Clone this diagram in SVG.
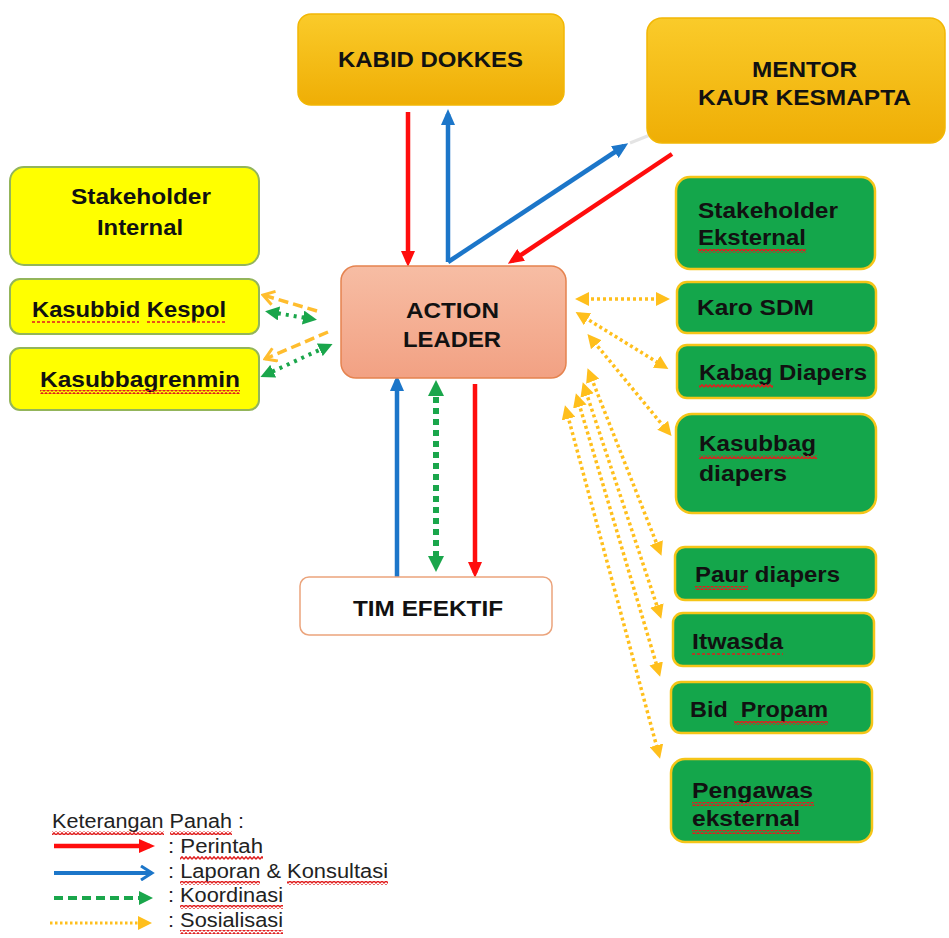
<svg xmlns="http://www.w3.org/2000/svg" width="949" height="938" viewBox="0 0 949 938">
<defs>
<style>
.t{font-family:"Liberation Sans",Arial,sans-serif;font-weight:bold;fill:#111;font-size:22px}
.lg{font-family:"Liberation Sans",Arial,sans-serif;fill:#222;font-size:19.5px}
.gold{fill:url(#gGold);stroke:#F2B705;stroke-width:1.5}
.yel{fill:#FFFF00;stroke:#93B55A;stroke-width:2}
.grn{fill:#14A64B;stroke:#F5C518;stroke-width:2.5}
.red{stroke:#FF0D0D;stroke-width:4.5;fill:none}
.blue{stroke:#1C76C9;stroke-width:4.5;fill:none}
.gdash{stroke:#1AA64B;stroke-width:6;fill:none;stroke-dasharray:6 5}
.gdot{stroke:#1AA64B;stroke-width:4;fill:none;stroke-dasharray:3 5}
.odash{stroke:#FFBD2E;stroke-width:3.5;fill:none;stroke-dasharray:10 5}
.odot{stroke:#FFBF1C;stroke-width:3.5;fill:none;stroke-dasharray:3 3}
.wv{fill:url(#wave)}
.dsh{stroke:#E01E1E;stroke-width:1.5;stroke-dasharray:3 2}
</style>
<linearGradient id="gGold" x1="0" y1="0" x2="0" y2="1">
<stop offset="0" stop-color="#FACB2A"/><stop offset="1" stop-color="#EFAE05"/>
</linearGradient>
<linearGradient id="gSal" x1="0" y1="0" x2="0" y2="1">
<stop offset="0" stop-color="#F7BDA4"/><stop offset="1" stop-color="#F2A183"/>
</linearGradient>
<pattern id="wave" width="4" height="4" patternUnits="userSpaceOnUse">
<path d="M0 3.2 L2 0.8 L4 3.2" fill="none" stroke="#E01E1E" stroke-width="1.4"/>
</pattern>
<marker id="mRed" viewBox="0 0 16 14" refX="11" refY="7" markerWidth="16" markerHeight="14" markerUnits="userSpaceOnUse" orient="auto">
<path d="M0 0 L16 7 L0 14 z" fill="#FF0D0D"/></marker>
<marker id="mBlue" viewBox="0 0 16 14" refX="11" refY="7" markerWidth="16" markerHeight="14" markerUnits="userSpaceOnUse" orient="auto">
<path d="M0 0 L16 7 L0 14 z" fill="#1C76C9"/></marker>
<marker id="mBlueOpen" viewBox="0 0 16 16" refX="13" refY="8" markerWidth="16" markerHeight="16" markerUnits="userSpaceOnUse" orient="auto">
<path d="M2 1 L13 8 L2 15" fill="none" stroke="#1C76C9" stroke-width="3"/></marker>
<marker id="mGreen" viewBox="0 0 16 16" refX="10" refY="8" markerWidth="16" markerHeight="16" markerUnits="userSpaceOnUse" orient="auto-start-reverse">
<path d="M0 0 L16 8 L0 16 z" fill="#1AA64B"/></marker>
<marker id="mGreenS" viewBox="0 0 14 14" refX="9" refY="7" markerWidth="14" markerHeight="14" markerUnits="userSpaceOnUse" orient="auto-start-reverse">
<path d="M0 0 L14 7 L0 14 z" fill="#1AA64B"/></marker>
<marker id="mOr" viewBox="0 0 14 14" refX="10" refY="7" markerWidth="14" markerHeight="14" markerUnits="userSpaceOnUse" orient="auto-start-reverse">
<path d="M0 0 L14 7 L0 14 z" fill="#FFBF1C"/></marker>
<marker id="mOrOpen" viewBox="0 0 14 16" refX="12" refY="8" markerWidth="14" markerHeight="16" markerUnits="userSpaceOnUse" orient="auto">
<path d="M1 1 L12 8 L1 15" fill="none" stroke="#FFBD2E" stroke-width="3"/></marker>
</defs>

<rect width="949" height="938" fill="#fff"/>

<g id="connectors">
<line class="red" x1="408" y1="112" x2="408" y2="262" marker-end="url(#mRed)"/>
<line class="blue" x1="448" y1="262" x2="448" y2="114" marker-end="url(#mBlue)"/>
<line class="blue" x1="448" y1="262" x2="624" y2="146" marker-end="url(#mBlue)"/>
<line class="red" x1="672" y1="154" x2="512" y2="261" marker-end="url(#mRed)"/>
<line x1="630" y1="143" x2="650" y2="135" stroke="#E4E4E4" stroke-width="3"/>
<line class="blue" x1="397" y1="577" x2="397" y2="380" marker-end="url(#mBlue)"/>
<line class="gdash" x1="436" y1="386" x2="436" y2="566" marker-start="url(#mGreen)" marker-end="url(#mGreen)"/>
<line class="red" x1="475" y1="384" x2="475" y2="573" marker-end="url(#mRed)"/>
<line class="odash" x1="317" y1="311" x2="263" y2="295" marker-end="url(#mOrOpen)"/>
<line class="gdot" x1="270" y1="312" x2="312" y2="319" marker-start="url(#mGreenS)" marker-end="url(#mGreenS)"/>
<line class="odash" x1="328" y1="332" x2="265" y2="359" marker-end="url(#mOrOpen)"/>
<line class="gdot" x1="265" y1="375" x2="328" y2="346" marker-start="url(#mGreenS)" marker-end="url(#mGreenS)"/>
<line class="odot" x1="579" y1="299" x2="666" y2="299" marker-start="url(#mOr)" marker-end="url(#mOr)"/>
<line class="odot" x1="579" y1="314" x2="665" y2="367" marker-start="url(#mOr)" marker-end="url(#mOr)"/>
<line class="odot" x1="590" y1="337" x2="669" y2="433" marker-start="url(#mOr)" marker-end="url(#mOr)"/>
<line class="odot" x1="589" y1="372" x2="660" y2="552" marker-start="url(#mOr)" marker-end="url(#mOr)"/>
<line class="odot" x1="584" y1="386" x2="660" y2="615" marker-start="url(#mOr)" marker-end="url(#mOr)"/>
<line class="odot" x1="577" y1="397" x2="659" y2="673" marker-start="url(#mOr)" marker-end="url(#mOr)"/>
<line class="odot" x1="566" y1="409" x2="659" y2="755" marker-start="url(#mOr)" marker-end="url(#mOr)"/>
</g>

<g id="kabid">
<rect class="gold" x="298" y="14" width="266" height="91" rx="13"/>
<text class="t" x="338" y="67" textLength="185" lengthAdjust="spacingAndGlyphs">KABID DOKKES</text>
</g>
<g id="mentor">
<rect class="gold" x="647" y="18" width="298" height="125" rx="15"/>
<text class="t" x="752" y="77" textLength="105" lengthAdjust="spacingAndGlyphs">MENTOR</text>
<text class="t" x="698" y="105" textLength="213" lengthAdjust="spacingAndGlyphs">KAUR KESMAPTA</text>
</g>
<g id="stakeholder-internal">
<rect class="yel" x="10" y="167" width="249" height="98" rx="14"/>
<text class="t" x="71" y="204" textLength="140" lengthAdjust="spacingAndGlyphs">Stakeholder</text>
<text class="t" x="97" y="235" textLength="86" lengthAdjust="spacingAndGlyphs">Internal</text>
</g>
<g id="kasubbid-kespol">
<rect class="yel" x="10" y="279" width="249" height="55" rx="10"/>
<text class="t" x="32" y="317" textLength="194" lengthAdjust="spacingAndGlyphs">Kasubbid Kespol</text>
<line class="dsh" x1="32" y1="322" x2="139" y2="322"/>
<line class="dsh" x1="147" y1="322" x2="226" y2="322"/>
</g>
<g id="kasubbagrenmin">
<rect class="yel" x="10" y="348" width="249" height="62" rx="10"/>
<text class="t" x="40" y="387" textLength="200" lengthAdjust="spacingAndGlyphs">Kasubbagrenmin</text>
<rect class="wv" x="40" y="390" width="200" height="4"/>
</g>
<g id="action-leader">
<rect x="341" y="266" width="225" height="112" rx="15" fill="url(#gSal)" stroke="#E5834F" stroke-width="1.5"/>
<text class="t" x="406" y="318" textLength="93" lengthAdjust="spacingAndGlyphs">ACTION</text>
<text class="t" x="403" y="347" textLength="98" lengthAdjust="spacingAndGlyphs">LEADER</text>
</g>
<g id="tim-efektif">
<rect x="300" y="577" width="252" height="58" rx="9" fill="#fff" stroke="#EBA47C" stroke-width="1.5"/>
<text class="t" x="353" y="616" textLength="150" lengthAdjust="spacingAndGlyphs">TIM EFEKTIF</text>
</g>
<g id="stakeholder-eksternal">
<rect class="grn" x="676" y="177" width="199" height="92" rx="14"/>
<text class="t" x="698" y="218" textLength="140" lengthAdjust="spacingAndGlyphs">Stakeholder</text>
<text class="t" x="698" y="245" textLength="108" lengthAdjust="spacingAndGlyphs">Eksternal</text>
<rect class="wv" x="698" y="249" width="108" height="4"/>
</g>
<g id="karo-sdm">
<rect class="grn" x="677" y="282" width="199" height="51" rx="10"/>
<text class="t" x="697" y="315" textLength="117" lengthAdjust="spacingAndGlyphs">Karo SDM</text>
</g>
<g id="kabag-diapers">
<rect class="grn" x="677" y="345" width="199" height="53" rx="10"/>
<text class="t" x="699" y="380" textLength="168" lengthAdjust="spacingAndGlyphs">Kabag Diapers</text>
<rect class="wv" x="699" y="384" width="74" height="4"/>
</g>
<g id="kasubbag-diapers">
<rect class="grn" x="676" y="414" width="200" height="99" rx="16"/>
<text class="t" x="699" y="451" textLength="117" lengthAdjust="spacingAndGlyphs">Kasubbag</text>
<rect class="wv" x="699" y="455" width="118" height="4"/>
<text class="t" x="699" y="481" textLength="88" lengthAdjust="spacingAndGlyphs">diapers</text>
</g>
<g id="paur-diapers">
<rect class="grn" x="675" y="547" width="201" height="53" rx="10"/>
<text class="t" x="695" y="582" textLength="145" lengthAdjust="spacingAndGlyphs">Paur diapers</text>
<rect class="wv" x="695" y="586" width="53" height="4"/>
</g>
<g id="itwasda">
<rect class="grn" x="673" y="613" width="201" height="53" rx="10"/>
<text class="t" x="692" y="649" textLength="91" lengthAdjust="spacingAndGlyphs">Itwasda</text>
<line class="dsh" x1="692" y1="654" x2="783" y2="654"/>
</g>
<g id="bid-propam">
<rect class="grn" x="671" y="682" width="201" height="51" rx="10"/>
<text class="t" x="690" y="717" textLength="138" lengthAdjust="spacingAndGlyphs" xml:space="preserve">Bid  Propam</text>
<rect class="wv" x="734" y="721" width="94" height="4"/>
</g>
<g id="pengawas-eksternal">
<rect class="grn" x="671" y="759" width="201" height="83" rx="14"/>
<text class="t" x="692" y="798" textLength="121" lengthAdjust="spacingAndGlyphs">Pengawas</text>
<rect class="wv" x="692" y="802" width="122" height="4"/>
<text class="t" x="692" y="826" textLength="108" lengthAdjust="spacingAndGlyphs">eksternal</text>
<rect class="wv" x="692" y="830" width="108" height="4"/>
</g>

<g id="legend">
<text class="lg" x="52" y="828" textLength="192" lengthAdjust="spacingAndGlyphs">Keterangan Panah :</text>
<rect class="wv" x="52" y="831" width="112" height="4"/>
<rect class="wv" x="170" y="831" width="62" height="4"/>
<line class="red" x1="54" y1="846" x2="150" y2="846" marker-end="url(#mRed)"/>
<text class="lg" x="168" y="853" textLength="95" lengthAdjust="spacingAndGlyphs">: Perintah</text>
<rect class="wv" x="180" y="856" width="83" height="4"/>
<line x1="54" y1="873" x2="152" y2="873" stroke="#1C76C9" stroke-width="4" marker-end="url(#mBlueOpen)"/>
<text class="lg" x="168" y="878" textLength="220" lengthAdjust="spacingAndGlyphs">: Laporan &amp; Konsultasi</text>
<rect class="wv" x="180" y="881" width="80" height="4"/>
<rect class="wv" x="287" y="881" width="101" height="4"/>
<line x1="54" y1="898" x2="148" y2="898" stroke="#1AA64B" stroke-width="4" stroke-dasharray="9 5" marker-end="url(#mGreenS)"/>
<text class="lg" x="168" y="902" textLength="115" lengthAdjust="spacingAndGlyphs">: Koordinasi</text>
<rect class="wv" x="180" y="905" width="103" height="4"/>
<line x1="50" y1="923" x2="148" y2="923" stroke="#FFBF1C" stroke-width="3" stroke-dasharray="2.5 2.5" marker-end="url(#mOr)"/>
<text class="lg" x="168" y="927" textLength="115" lengthAdjust="spacingAndGlyphs">: Sosialisasi</text>
<rect class="wv" x="180" y="930" width="103" height="4"/>
</g>
</svg>
